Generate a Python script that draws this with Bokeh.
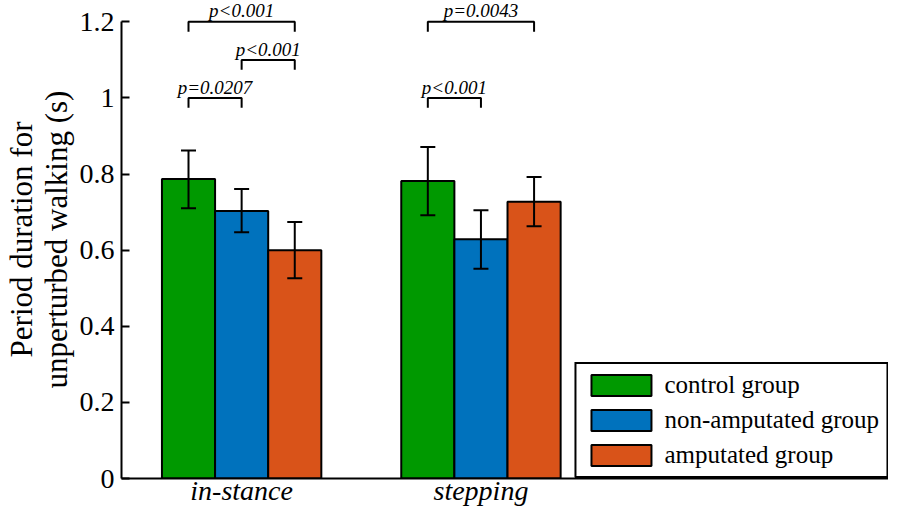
from bokeh.plotting import figure
from bokeh.models import (ColumnDataSource, Whisker, TeeHead, FixedTicker, Legend,
                          LegendItem, LabelSet)
from bokeh.embed import file_html
from bokeh.resources import INLINE

# ---- data ----
conditions = ["in-stance", "stepping"]
groups = ["control group", "non-amputated group", "amputated group"]
colors = ["#009900", "#0072BD", "#D95319"]

mean_control = [0.787, 0.782]
mean_nonamp = [0.703, 0.629]
mean_amp = [0.600, 0.727]

upper_control = [0.862, 0.871]
upper_nonamp = [0.761, 0.705]
upper_amp = [0.674, 0.792]

lower_control = [0.710, 0.692]
lower_nonamp = [0.647, 0.551]
lower_amp = [0.526, 0.663]

y_ticks = [0, 0.2, 0.4, 0.6, 0.8, 1.0, 1.2]
y_tick_labels = ["0", "0.2", "0.4", "0.6", "0.8", "1", "1.2"]

# comparisons: condition index, group a, group b, bracket level, label
cmp_cond = [0, 0, 0, 1, 1]
cmp_a = [0, 1, 0, 0, 0]
cmp_b = [2, 2, 1, 2, 1]
cmp_level = [1.2, 1.1, 1.0, 1.2, 1.0]
cmp_label = ["p<0.001", "p<0.001", "p=0.0207", "p=0.0043", "p<0.001"]

means = [mean_control, mean_nonamp, mean_amp]
uppers = [upper_control, upper_nonamp, upper_amp]
lowers = [lower_control, lower_nonamp, lower_amp]

# ---- layout parameters ----
BAR_W = 0.222
offsets = [-BAR_W, 0.0, BAR_W]
cond_x = [i + 1 for i in range(len(conditions))]
FONT = "Liberation Serif"

p = figure(width=888, height=508, output_backend="svg", toolbar_location=None,
           x_range=(0.498, 3.703), y_range=(0, 1.2561),
           min_border_left=114, min_border_right=0, min_border_top=0,
           min_border_bottom=30)
p.outline_line_color = None
p.xgrid.visible = False
p.ygrid.visible = False
p.background_fill_color = "white"

renderers = []
for g in range(len(groups)):
    xs = [c + offsets[g] for c in cond_x]
    src = ColumnDataSource(dict(x=xs, top=means[g], upper=uppers[g], lower=lowers[g]))
    r = p.vbar(x="x", top="top", bottom=0, width=BAR_W, source=src,
               fill_color=colors[g], line_color="black", line_width=2)
    renderers.append(r)
    w = Whisker(base="x", upper="upper", lower="lower", source=src, level="overlay",
                line_color="black", line_width=2,
                upper_head=TeeHead(size=15, line_color="black", line_width=2),
                lower_head=TeeHead(size=15, line_color="black", line_width=2))
    p.add_layout(w)

# significance brackets
TICK = 0.026
bx, by, lx, ly = [], [], [], []
for c, a, b, lev in zip(cmp_cond, cmp_a, cmp_b, cmp_level):
    xa = cond_x[c] + offsets[a]
    xb = cond_x[c] + offsets[b]
    bx.append([xa, xa, xb, xb])
    by.append([lev - TICK, lev, lev, lev - TICK])
    lx.append((xa + xb) / 2)
    ly.append(lev + 0.001)
p.multi_line(xs=bx, ys=by, line_color="black", line_width=2)
lab_src = ColumnDataSource(dict(x=lx, y=ly, text=cmp_label))
p.add_layout(LabelSet(x="x", y="y", text="text", source=lab_src,
                      text_align="center", text_baseline="bottom",
                      text_font=FONT, text_font_style="italic",
                      text_font_size="19px", text_color="black"))

# y axis
ya = p.yaxis[0]
ya.ticker = FixedTicker(ticks=y_ticks)
ya.major_label_overrides = {t: s for t, s in zip(y_ticks, y_tick_labels)}
ya.bounds = (0, 1.2)
ya.major_tick_in = 8
ya.major_tick_out = 0
ya.minor_tick_line_color = None
ya.axis_line_width = 2
ya.axis_line_color = "black"
ya.major_tick_line_width = 2
ya.major_tick_line_color = "black"
ya.major_label_text_font = FONT
ya.major_label_text_font_size = "28px"
ya.major_label_text_color = "black"
ya.major_label_standoff = 7
ya.axis_label = "Period duration for\nunperturbed walking (s)"
ya.axis_label_text_font = FONT
ya.axis_label_text_font_size = "31px"
ya.axis_label_text_font_style = "normal"
ya.axis_label_text_color = "black"
ya.axis_label_text_line_height = 1.0
ya.axis_label_standoff = 3

# x axis
xa_ = p.xaxis[0]
xa_.ticker = FixedTicker(ticks=cond_x)
xa_.major_label_overrides = {x: s for x, s in zip(cond_x, conditions)}
xa_.major_tick_line_color = None
xa_.major_tick_out = 0
xa_.major_tick_in = 0
xa_.minor_tick_line_color = None
xa_.axis_line_width = 2
xa_.axis_line_color = "black"
xa_.major_label_text_font = FONT
xa_.major_label_text_font_size = "28px"
xa_.major_label_text_font_style = "italic"
xa_.major_label_text_color = "black"
xa_.major_label_standoff = -4

legend = Legend(items=[LegendItem(label=groups[g], renderers=[renderers[g]])
                       for g in range(len(groups))],
                location="bottom_right", margin=0, padding=7, spacing=7,
                glyph_width=75, glyph_height=26, label_standoff=6,
                label_text_font=FONT, label_text_font_size="25px",
                label_text_color="black",
                border_line_color="black", border_line_width=2,
                border_line_alpha=1.0,
                background_fill_color="white", background_fill_alpha=1.0)
p.add_layout(legend)

open("out.html", "w").write(file_html(p, INLINE))
